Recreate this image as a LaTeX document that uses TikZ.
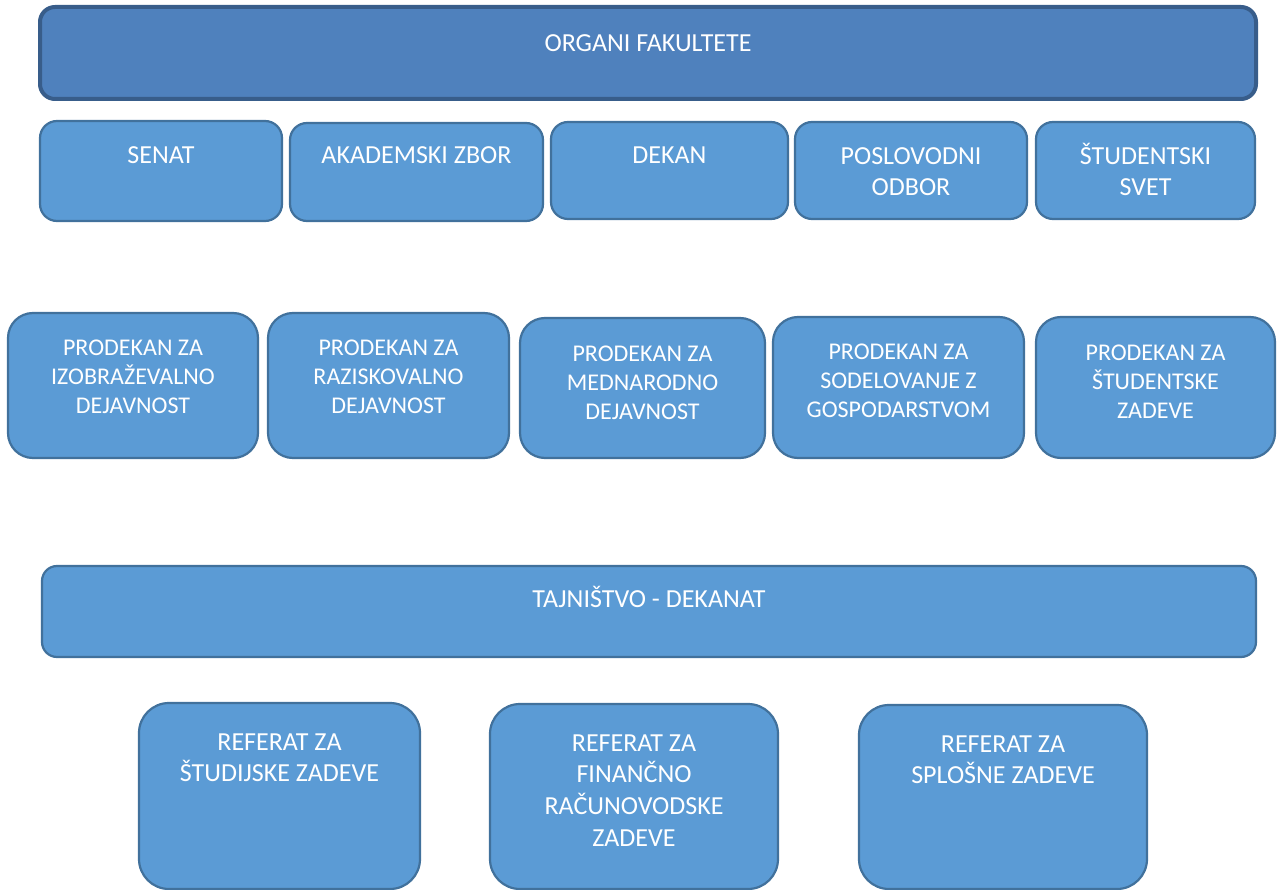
\documentclass[tikz,border=0pt]{standalone}
\usepackage{fontspec}
\setmainfont{Carlito}
\definecolor{boxfill}{HTML}{5B9BD5}
\definecolor{boxline}{HTML}{41719C}
\definecolor{topfill}{HTML}{4F81BD}
\definecolor{topline}{HTML}{385D8A}
\newcommand{\bigf}{\fontsize{26}{31.7}\selectfont}
\newcommand{\smallf}{\fontsize{24}{29.3}\selectfont}
\tikzset{
  box/.style={draw=boxline, fill=boxfill, line width=2.2pt, rounded corners=#1, outer sep=0pt, inner sep=0pt},
  box/.default=17pt,
  topbox/.style={draw=topline, fill=topfill, line width=4pt, rounded corners=15pt, outer sep=0pt, inner sep=0pt},
  lbl/.style={anchor=north, inner sep=0pt, text=white, align=center, font=\bigf},
  slbl/.style={lbl, font=\smallf},
}
\begin{document}
\begin{tikzpicture}[x=1pt,y=-1pt]
\useasboundingbox (0,0) rectangle (1277,890);
% top
\node[topbox, minimum width=1216pt, minimum height=92pt] (organi) at (648,53) {};
\node[lbl] at ([yshift=-21.8pt]organi.north) {\strut ORGANI FAKULTETE};
% row 2
\node[box, minimum width=242pt, minimum height=100pt] (senat) at (161,171) {};
\node[lbl] at ([yshift=-19.8pt]senat.north) {\strut SENAT};
\node[box, minimum width=253pt, minimum height=98pt] (zbor) at (416.5,172) {};
\node[lbl] at ([yshift=-17.8pt]zbor.north) {\strut AKADEMSKI ZBOR};
\node[box, minimum width=237pt, minimum height=97pt] (dekan) at (669.5,170.5) {};
\node[lbl] at ([yshift=-18.8pt]dekan.north) {\strut DEKAN};
\node[box, minimum width=232pt, minimum height=97pt] (odbor) at (911,170.5) {};
\node[lbl] at ([yshift=-19.8pt]odbor.north) {\strut POSLOVODNI\\ODBOR};
\node[box, minimum width=219pt, minimum height=97pt] (svet) at (1145.5,170.5) {};
\node[lbl] at ([yshift=-19.8pt]svet.north) {\strut ŠTUDENTSKI\\SVET};
% row 3
\node[box=25pt, minimum width=250pt, minimum height=145pt] (p1) at (133,385.5) {};
\node[slbl] at ([yshift=-21.5pt]p1.north) {\strut PRODEKAN ZA\\IZOBRAŽEVALNO\\DEJAVNOST};
\node[box=25pt, minimum width=241pt, minimum height=145pt] (p2) at (388.5,385.5) {};
\node[slbl] at ([yshift=-21.5pt]p2.north) {\strut PRODEKAN ZA\\RAZISKOVALNO\\DEJAVNOST};
\node[box=25pt, minimum width=245pt, minimum height=140pt] (p3) at (642.5,388) {};
\node[slbl] at ([yshift=-22.5pt]p3.north) {\strut PRODEKAN ZA\\MEDNARODNO\\DEJAVNOST};
\node[box=25pt, minimum width=251pt, minimum height=141pt] (p4) at (898.5,387.5) {};
\node[slbl] at ([yshift=-21.5pt]p4.north) {\strut PRODEKAN ZA\\SODELOVANJE Z\\GOSPODARSTVOM};
\node[box=25pt, minimum width=239pt, minimum height=141pt] (p5) at (1155.5,387.5) {};
\node[slbl] at ([yshift=-22.5pt]p5.north) {\strut PRODEKAN ZA\\ŠTUDENTSKE\\ZADEVE};
% row 4
\node[box=15pt, minimum width=1214pt, minimum height=91pt] (tajn) at (649,611.5) {};
\node[lbl] at ([yshift=-18.8pt]tajn.north) {\strut TAJNIŠTVO - DEKANAT};
% row 5
\node[box=30pt, minimum width=281pt, minimum height=186pt] (r1) at (279.5,796) {};
\node[lbl] at ([yshift=-24.8pt]r1.north) {\strut REFERAT ZA\\ŠTUDIJSKE ZADEVE};
\node[box=30pt, minimum width=288pt, minimum height=185pt] (r2) at (634,796.5) {};
\node[lbl] at ([yshift=-24.8pt]r2.north) {\strut REFERAT ZA\\FINANČNO\\RAČUNOVODSKE\\ZADEVE};
\node[box=30pt, minimum width=288pt, minimum height=184pt] (r3) at (1003,797) {};
\node[lbl] at ([yshift=-24.8pt]r3.north) {\strut REFERAT ZA\\SPLOŠNE ZADEVE};
\end{tikzpicture}
\end{document}
